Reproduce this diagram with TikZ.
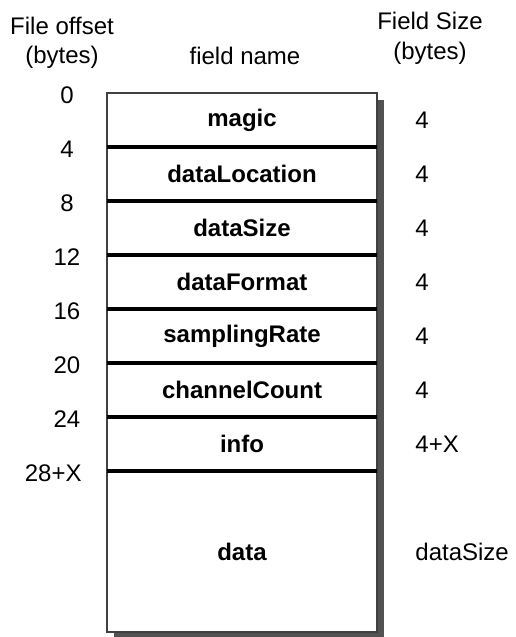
\documentclass[tikz,border=0pt]{standalone}
\usepackage{fontspec}
\setmainfont{Liberation Sans}
\usetikzlibrary{positioning,backgrounds}

\tikzset{
  field/.style={minimum width=135pt, minimum height=27pt, inner sep=0pt, outer sep=0pt,
                font=\fontsize{12}{14}\selectfont\bfseries},
  sidetext/.style={inner sep=0pt, font=\fontsize{12}{14}\selectfont},
  divider/.style={line width=1.6pt, draw=black},
  frame/.style={line width=0.8pt, draw=black!75},
  boxshadow/.style={fill=black!68}
}

\begin{document}
\begin{tikzpicture}[x=0.5pt, y=-0.5pt]
  \useasboundingbox (0,0) rectangle (515,637);

  % Drawing the column headings
  \node[sidetext, anchor=base] (offhdr) at (62,34) {File offset};
  \node[sidetext, anchor=base] (offunit) at (62,63) {(bytes)};
  \node[sidetext, anchor=base] (namehdr) at (245,64) {field name};
  \node[sidetext, anchor=base] (sizehdr) at (430,29) {Field Size};
  \node[sidetext, anchor=base] (sizeunit) at (430,59) {(bytes)};

  % Drawing the field rows
  \node[field] (magic) at (242,120) {magic};
  \node[field, below=0pt of magic] (dataloc) {dataLocation};
  \node[field, below=0pt of dataloc] (datasize) {dataSize};
  \node[field, below=0pt of datasize] (datafmt) {dataFormat};
  \node[field, below=0pt of datafmt] (samprate) {samplingRate};
  \node[field, below=0pt of samprate] (chancount) {channelCount};
  \node[field, below=0pt of chancount] (info) {info};
  \node[field, below=0pt of info, minimum height=80.5pt] (data) {data};

  % Shadow and white box behind the rows
  \begin{scope}[on background layer]
    \fill[boxshadow] ([shift={(7,7)}]magic.north west) rectangle ([shift={(7,7)}]data.south east);
    \fill[white] (magic.north west) rectangle (data.south east);
  \end{scope}
  \draw[frame] (magic.north west) rectangle (data.south east);
  \foreach \n in {magic,dataloc,datasize,datafmt,samprate,chancount,info}
    \draw[divider] (\n.south west) -- (\n.south east);

  % Marking the file offsets
  \coordinate (offcol) at (67,0);
  \foreach \n/\t in {magic/0,dataloc/4,datasize/8,datafmt/12,samprate/16,chancount/20,info/24}
    \node[sidetext] (off-\n) at ([yshift=-1.2pt]\n.north -| offcol) {\t};
  \coordinate (offend) at (82,0);
  \node[sidetext, anchor=east] (off-data) at ([yshift=-1.2pt]data.north -| offend) {28+X};

  % Marking the field sizes
  \coordinate (sizecol) at (415,0);
  \foreach \n/\t in {magic/4,dataloc/4,datasize/4,datafmt/4,samprate/4,chancount/4,info/4+X,data/dataSize}
    \node[sidetext, anchor=west] (size-\n) at (\n.center -| sizecol) {\t};
\end{tikzpicture}
\end{document}
